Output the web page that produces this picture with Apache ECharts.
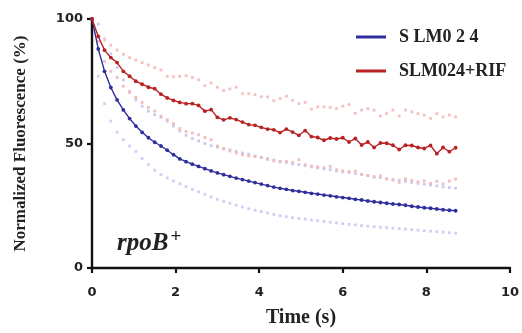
<!DOCTYPE html>
<html><head><meta charset="utf-8">
<script src="https://cdn.jsdelivr.net/npm/echarts@6/dist/echarts.min.js"></script>
<style>html,body{margin:0;padding:0;background:#fff}#c{width:522px;height:333px}</style>
</head><body><div id="c"></div>
<script>
const times = [0,0.15,0.3,0.45,0.6,0.75,0.9,1.05,1.2,1.35,1.5,1.65,1.8,1.95,2.1,2.25,2.4,2.55,2.7,2.85,3.0,3.15,3.3,3.45,3.6,3.75,3.9,4.05,4.2,4.35,4.5,4.65,4.8,4.95,5.1,5.25,5.4,5.55,5.7,5.85,6.0,6.15,6.3,6.45,6.6,6.75,6.9,7.05,7.2,7.35,7.5,7.65,7.8,7.95,8.1,8.25,8.4,8.55,8.7];
const slmMean = [100,88,79,72.5,67.5,63.5,60,57,54.5,52.3,50.5,49,47.3,45.5,43.8,42.7,41.7,40.8,39.9,39,38.2,37.5,36.8,36.1,35.5,34.9,34.3,33.7,33.1,32.5,32,31.6,31.1,30.8,30.4,30,29.7,29.3,29,28.6,28.3,28,27.6,27.3,26.9,26.6,26.3,26,25.7,25.5,25.2,24.8,24.5,24.2,24,23.7,23.4,23.2,23];
const slmUpper = [100,98,92,86,80.5,75.5,71,67.5,65,63,61.5,60.5,59,57,55,53.3,52,51,50,49.1,48.5,48,47.5,46.8,46.2,45.7,45,44.5,44,43.4,42.8,42.3,41.8,41.5,41.1,40.6,40.2,39.8,39.5,39,38.6,38.3,37.9,37.5,37.1,36.7,36.3,35.9,35.5,35.2,34.8,34.4,34,33.6,33.3,33,32.6,32.3,32];
const slmLower = [100,77,66,59,54.5,51.5,49,46.8,44,41.5,39.3,37.5,36.2,35,33.8,32.7,31.6,30.6,29.6,28.6,27.6,26.8,26,25.2,24.5,23.8,23.2,22.7,22.1,21.5,21,20.6,20.2,19.9,19.6,19.3,19,18.7,18.4,18.1,17.8,17.5,17.3,17,16.8,16.6,16.4,16.2,16,15.8,15.6,15.4,15.2,15,14.8,14.6,14.4,14.2,14];
const rifMean = [100,93,87.5,84.5,82.5,79,77,75,73.8,72.6,72,69.8,68.3,67.3,66.5,66,66,65.3,63,63.6,60.5,59.5,60.3,59.6,58.6,57.6,57.3,56.5,55.8,55.5,54.4,55.8,54.6,53.3,55.2,52.8,52.4,51.3,52.2,51.8,52.3,50.6,52,49.4,50.6,48.4,50.2,50.1,49.3,47.6,49.3,49.2,48.4,48,49.2,45.9,48.4,46.7,48.3];
const rifUpper = [100,93,91.5,89.5,87.5,85.8,84.5,83.5,82.5,81.5,80.5,79.5,77,76.8,77,77.2,76.5,75.6,73.2,74.3,72.6,71.3,71.9,72.6,70,70,69.6,68.8,68.7,67.2,68,69,67.3,66,66.5,63.8,64.7,64.7,64.5,64,65,65.6,62.1,63.4,64,63.4,61.1,62,63.4,61.1,63.4,62.7,62,61.4,60.1,62,60.7,61.4,60.7];
const rifLower = [100,91,83,79,76.5,73,70.5,68.5,66.5,64.5,63,61,59.5,58,56,54.8,54.2,53.5,52.4,51.5,49,47.8,47,46.2,45.5,45,44.8,44.3,43.6,43,42.6,42.8,42.4,43.5,41.5,41,40.6,40.3,40.8,39.5,39,38.7,38.9,37.6,37.2,36.5,37,35.7,35.3,34.4,35.8,35.2,34.6,35,34,34.8,33.8,34.9,35.7];
const yTicks = [0,50,100];
const xTicks = [0,2,4,6,8,10];
const names = ['S LM0 2 4','SLM024+RIF'];

const pair = arr => times.map((t,i)=>[t,arr[i]]);
const dotSeries = (arr,color) => ({type:'line',data:pair(arr),symbol:'rect',symbolSize:2.8,showSymbol:true,
  itemStyle:{color:color},lineStyle:{width:0,opacity:0},z:1,silent:true,animation:false});
const solidSeries = (name,arr,color) => ({name:name,type:'line',data:pair(arr),symbol:'circle',symbolSize:3.8,
  itemStyle:{color:color},lineStyle:{width:1.4,color:color},z:3,animation:false});

const chart = echarts.init(document.getElementById('c'));
chart.setOption({
  animation:false,
  grid:{left:92,right:12,top:19,bottom:61},
  legend:{data:[{name:names[0],icon:'rect'},{name:names[1],icon:'rect'}],orient:'vertical',left:351,top:23,
    itemWidth:30,itemHeight:3,itemGap:16,
    textStyle:{fontFamily:'Liberation Serif',fontWeight:'bold',fontSize:18,color:'#222',padding:[0,0,0,8]}},
  xAxis:{type:'value',min:0,max:10,interval:2,
    name:'Time (s)',nameLocation:'middle',nameGap:40,
    nameTextStyle:{fontFamily:'Liberation Serif',fontWeight:'bold',fontSize:20,color:'#222'},
    axisLine:{lineStyle:{color:'#111',width:2.4}},
    axisTick:{show:true,length:5,lineStyle:{color:'#111',width:2.2}},
    axisLabel:{fontFamily:'DejaVu Sans',fontWeight:'bold',fontSize:13,color:'#222',margin:18,
      formatter:v=>xTicks.includes(v)?String(v):''},
    splitLine:{show:false}},
  yAxis:{type:'value',min:0,max:100,interval:50,
    name:'Normalized Fluorescence (%)',nameLocation:'middle',nameGap:63,
    nameTextStyle:{fontFamily:'Liberation Serif',fontWeight:'bold',fontSize:17,color:'#222'},
    axisLine:{show:true,lineStyle:{color:'#111',width:2.4}},
    axisTick:{show:true,length:5,lineStyle:{color:'#111',width:2.2}},
    axisLabel:{fontFamily:'DejaVu Sans',fontWeight:'bold',fontSize:13,color:'#222',margin:9,
      formatter:v=>yTicks.includes(v)?String(v):''},
    splitLine:{show:false}},
  graphic:[{type:'text',left:117,top:228,z:10,style:{
    text:'{a|rpoB}{b|+}',
    rich:{a:{fontFamily:'Liberation Serif',fontStyle:'italic',fontWeight:'bold',fontSize:25,fill:'#222'},
          b:{fontFamily:'Liberation Serif',fontWeight:'bold',fontSize:19,fill:'#222',verticalAlign:'top',padding:[0,0,12,2]}}}}],
  series:[
    dotSeries(slmLower,'#cfd0f2'),
    dotSeries(slmUpper,'#c9caef'),
    dotSeries(rifUpper,'#f5c0c0'),
    dotSeries(rifLower,'#f2bcbc'),
    solidSeries(names[0],slmMean,'#2e2f9c'),
    solidSeries(names[1],rifMean,'#b82222')
  ]
});
</script></body></html>
